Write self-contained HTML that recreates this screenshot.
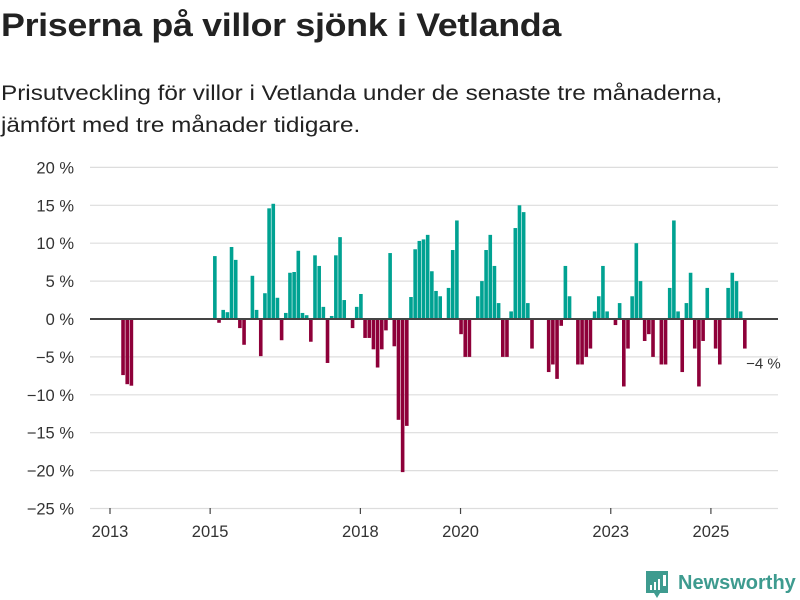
<!DOCTYPE html>
<html><head><meta charset="utf-8"><style>
body{margin:0;background:#fff;font-family:"Liberation Sans","DejaVu Sans",sans-serif;color:#222}
#wrap{position:relative;width:800px;height:600px;overflow:hidden}
h1{position:absolute;left:1px;top:7px;margin:0;font-size:32px;font-weight:bold;letter-spacing:-0.3px;transform-origin:0 0;transform:scaleX(1.12);white-space:nowrap}
p.sub{position:absolute;left:1px;top:78px;margin:0;font-size:21px;line-height:32px;color:#222;transform-origin:0 0;transform:scaleX(1.157);white-space:nowrap}
</style></head><body><div id="wrap">
<h1>Priserna på villor sjönk i Vetlanda</h1>
<p class="sub">Prisutveckling för villor i Vetlanda under de senaste tre månaderna,<br>jämfört med tre månader tidigare.</p>
<svg id="chart" width="800" height="600" style="position:absolute;left:0;top:0"></svg>
</div>
<script>
// monthly values starting Jan 2013 (null = no data)
const startYear = 2013;
const values = [null,null,-7.4,-8.6,-8.8,null,null,null,null,null,null,null,
null,null,null,null,null,null,null,null,null,null,null,null,
8.3,-0.5,1.2,0.9,9.5,7.8,-1.2,-3.4,null,5.7,1.2,-4.9,
3.4,14.6,15.2,2.8,-2.8,0.8,6.1,6.2,9.0,0.8,0.5,-3.0,
8.4,7.0,1.6,-5.8,0.4,8.4,10.8,2.5,null,-1.2,1.6,3.3,
-2.5,-2.5,-4,-6.4,-4,-1.5,8.7,-3.6,-13.3,-20.2,-14.1,2.9,
9.2,10.3,10.5,11.1,6.3,3.7,3.0,null,4.1,9.1,13.0,-2,
-5,-5,null,3.0,5.0,9.1,11.1,7.0,2.1,-5,-5,1.0,
12.0,15.0,14.1,2.1,-3.9,null,null,null,-7,-6,-7.9,-0.9,
7.0,3.0,null,-6,-6,-5,-3.9,1.0,3.0,7.0,1.0,null,
-0.8,2.1,-8.9,-3.9,3.0,10.0,5.0,-2.9,-2.0,-5,null,-6,
-6,4.1,13.0,1.0,-7,2.1,6.1,-3.9,-8.9,-2.9,4.1,null,
-3.9,-6,null,4.1,6.1,5.0,1.0,-3.9];
const yTicks = [20,15,10,5,0,-5,-10,-15,-20,-25];
const xTickYears = [2013,2015,2018,2020,2023,2025];
const lastLabel = "−4 %";

const svg = document.getElementById('chart');
const NS = 'http://www.w3.org/2000/svg';
const y = v => 319 - v*7.58;
const xm = m => 110 + m*4.173; // months since Jan 2013
function el(tag, attrs){const e=document.createElementNS(NS,tag);for(const k in attrs)e.setAttribute(k,attrs[k]);svg.appendChild(e);return e;}

yTicks.forEach(t=>{
  const g = el('line',{x1:90,x2:778,y1:y(t),y2:y(t),stroke:'#ddd','stroke-width':1.2});
  
  
  const tx = el('text',{x:74,y:y(t)+6,'text-anchor':'end','font-size':16.5,fill:'#333'});
  tx.textContent = (t<0?'−'+(-t):t)+' %';
  
  
});
xTickYears.forEach(yr=>{
  const x = xm((yr-startYear)*12);
  const tk = el('line',{x1:x,x2:x,y1:508,y2:514,stroke:'#444','stroke-width':1.2});
  
  
  const tx = el('text',{x:x,y:537,'text-anchor':'middle','font-size':16.5,fill:'#333'});
  tx.textContent = yr;
  
  
});
let lastI = -1;
values.forEach((v,i)=>{
  if(v===null) return;
  lastI = i;
  const top = Math.min(y(v), y(0)), h = Math.abs(y(v)-y(0));
  const r = el('rect',{x:xm(i)+2.9,y:top,width:3.6,height:Math.max(h,0.5),fill:v>=0?'#00a292':'#8e0039'});
  
  
});
const zl = el('line',{x1:90,x2:778,y1:319,y2:319,stroke:'#444','stroke-width':2});


const lab = el('text',{x:xm(lastI)+6,y:y(values[lastI])+20,'font-size':15,fill:'#333'});
lab.textContent = lastLabel;


// logo
const lg = el('g',{});


const ic = document.createElementNS(NS,'path');
ic.setAttribute('d','M646 571 h22 v22 h-8 l-3 5 l-3 -5 h-8 z');
ic.setAttribute('fill','#3e9b8f');
lg.appendChild(ic);
[[650,585,2,5],[654,582,2,8],[658,579,2,11],[663,575,3,11]].forEach(b=>{
  const r=document.createElementNS(NS,'rect');r.setAttribute('x',b[0]);r.setAttribute('y',b[1]);r.setAttribute('width',b[2]);r.setAttribute('height',b[3]);r.setAttribute('fill','#fff');lg.appendChild(r);
});
const lt = document.createElementNS(NS,'text');
lt.setAttribute('x',678);lt.setAttribute('y',589);lt.setAttribute('font-size',20);lt.setAttribute('font-weight','bold');lt.setAttribute('fill','#3e9b8f');
lt.textContent='Newsworthy';
lg.appendChild(lt);
</script></body></html>
